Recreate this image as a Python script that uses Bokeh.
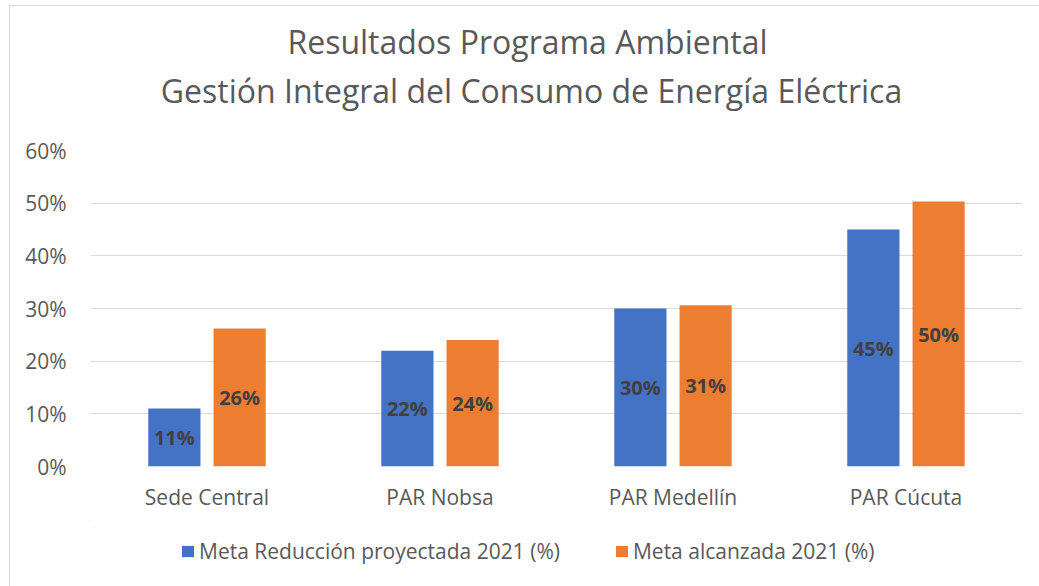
from bokeh.plotting import figure
from bokeh.layouts import column
from bokeh.models import (ColumnDataSource, FactorRange, Range1d, NumeralTickFormatter,
                          FixedTicker, Label, Legend, LegendItem)
from bokeh.transform import dodge
from bokeh.core.properties import value
from bokeh.embed import file_html
from bokeh.resources import INLINE

# ---- data ----
categories = ["Sede Central", "PAR Nobsa", "PAR Medellín", "PAR Cúcuta"]
meta_proyectada = [0.11, 0.22, 0.30, 0.45]
meta_alcanzada = [0.262, 0.24, 0.306, 0.503]
series_names = ["Meta Reducción proyectada 2021 (%)", "Meta alcanzada 2021 (%)"]
y_ticks = [0.0, 0.1, 0.2, 0.3, 0.4, 0.5, 0.6]
title_lines = ["Resultados Programa Ambiental",
               "Gestión Integral del Consumo de Energía Eléctrica"]

FONT = "Open Sans"
TXT = "#595959"
BLUE = "#4472C4"
ORANGE = "#ED7D31"
BORDER = "#D9D9D9"

# frame of the main chart in page pixels: x 90..1022
FX0, FX1 = 90, 1022


def strip(width, height, xr, yr):
    f = figure(width=width, height=height, x_range=xr, y_range=yr,
               x_axis_type=None, y_axis_type=None, output_backend="svg",
               toolbar_location=None, min_border_left=80, min_border_right=17,
               min_border_top=0, min_border_bottom=0)
    f.title = None
    f.grid.grid_line_color = None
    f.outline_line_color = None
    return f


# ---- title strip (page y 6..130) ----
tf = strip(1029, 124, Range1d(FX0, FX1), Range1d(130, 6))
tf.add_layout(Label(x=527, y=41, text=title_lines[0], text_align="center",
                    text_baseline="alphabetic", text_font=FONT, text_font_size="32px",
                    text_color=TXT))
tf.add_layout(Label(x=531, y=90, text=title_lines[1], text_align="center",
                    text_baseline="alphabetic", text_font=FONT, text_font_size="32px",
                    text_color=TXT))

# ---- main chart ----
src = ColumnDataSource(dict(
    cat=categories,
    proy=meta_proyectada,
    alc=meta_alcanzada,
    proy_mid=[v / 2 for v in meta_proyectada],
    alc_mid=[v / 2 for v in meta_alcanzada],
    proy_lbl=["{:.0f}%".format(v * 100) for v in meta_proyectada],
    alc_lbl=["{:.0f}%".format(v * 100) for v in meta_alcanzada],
))

p = figure(width=1029, height=390, x_range=FactorRange(*categories),
           y_range=Range1d(0, 0.6), output_backend="svg", toolbar_location=None,
           min_border_left=80, min_border_right=17,
           min_border_top=20, min_border_bottom=54)
p.title = None

off = 0.14
bw = 0.224
r1 = p.vbar(x=dodge("cat", -off, range=p.x_range), top="proy", width=bw, source=src,
            fill_color=BLUE, line_color=None)
r2 = p.vbar(x=dodge("cat", off, range=p.x_range), top="alc", width=bw, source=src,
            fill_color=ORANGE, line_color=None)

p.text(x=dodge("cat", -off, range=p.x_range), y="proy_mid", text="proy_lbl", source=src,
       text_align="center", text_baseline="middle", text_font=value(FONT),
       text_font_size="20px", text_font_style="bold", text_color="#404040")
p.text(x=dodge("cat", off, range=p.x_range), y="alc_mid", text="alc_lbl", source=src,
       text_align="center", text_baseline="middle", text_font=value(FONT),
       text_font_size="20px", text_font_style="bold", text_color="#404040")

p.yaxis.ticker = FixedTicker(ticks=y_ticks)
p.yaxis.formatter = NumeralTickFormatter(format="0%")
for ax in (p.xaxis[0], p.yaxis[0]):
    ax.axis_line_color = None
    ax.major_tick_line_color = None
    ax.minor_tick_line_color = None
    ax.major_label_text_font = FONT
    ax.major_label_text_font_size = "21px"
    ax.major_label_text_color = TXT
p.yaxis.major_label_standoff = 18
p.xaxis.major_label_standoff = 10

p.xgrid.grid_line_color = None
p.ygrid.grid_line_color = BORDER
p.ygrid.grid_line_width = 1
p.outline_line_color = None

# ---- legend strip (page y 520..586) ----
lf = strip(1029, 66, Range1d(FX0, FX1), Range1d(586, 520))
lr1 = lf.vbar(x=[0], top=[0], bottom=[-10], width=1, fill_color=BLUE, line_color=None)
lr2 = lf.vbar(x=[0], top=[0], bottom=[-10], width=1, fill_color=ORANGE, line_color=None)
legend = Legend(items=[LegendItem(label=series_names[0], renderers=[lr1]),
                       LegendItem(label=series_names[1], renderers=[lr2])],
                orientation="horizontal", location=(90, 21),
                label_text_font=FONT, label_text_font_size="21px",
                label_text_color=TXT, glyph_width=15, glyph_height=14,
                label_standoff=4, spacing=54, border_line_color=None,
                background_fill_alpha=0, margin=0, padding=5)
lf.add_layout(legend, "center")

layout = column(tf, p, lf, spacing=0, margin=(5, 0, 0, 9),
                styles={"border-left": "1px solid " + BORDER,
                        "border-top": "1px solid " + BORDER})
open("out.html", "w").write(file_html(layout, INLINE))
